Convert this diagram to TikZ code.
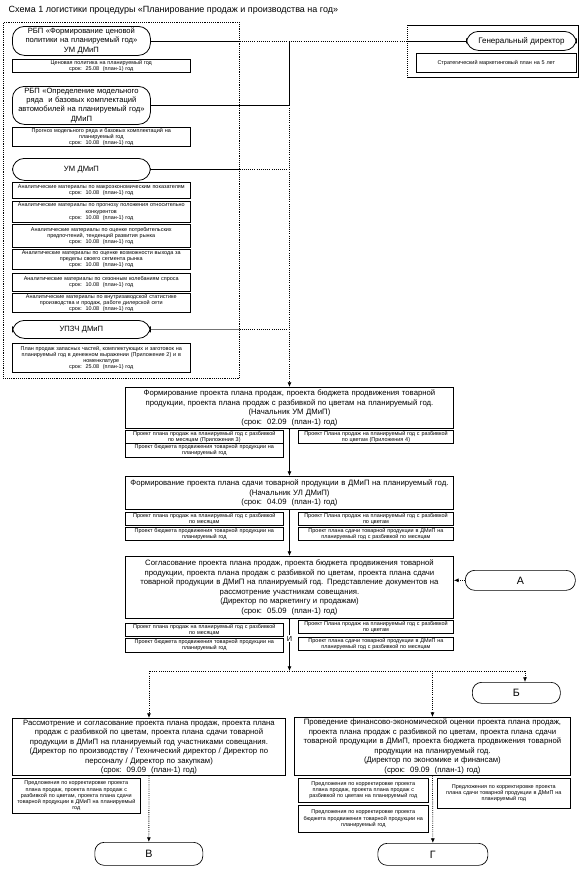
\documentclass[tikz,border=0pt]{standalone}
\usepackage{fontspec}
\setmainfont{Liberation Sans}
\usetikzlibrary{arrows.meta}

\begin{document}
\begin{tikzpicture}[
  x=0.75pt, y=-0.75pt,
  frame/.style={
    rectangle,
    anchor=north west,
    inner sep=0pt
  },
  group/.style={
    rectangle,
    draw=black,
    line width=0.6pt,
    rounded corners=9pt,
    align=center,
    inner xsep=1pt, inner ysep=0pt,
    anchor=north west,
    font=\fontsize{5.7}{6.9}\selectfont
  },
  doc/.style={
    rectangle,
    draw=black,
    line width=0.45pt,
    align=center,
    inner xsep=1pt, inner ysep=0.5pt,
    anchor=north west,
    font=\fontsize{4.1}{4.6}\selectfont
  },
  task/.style={
    rectangle,
    draw=black,
    line width=0.7pt,
    align=center,
    inner xsep=1pt, inner ysep=0pt,
    anchor=north west,
    font=\fontsize{5.8}{7.1}\selectfont
  },
  term/.style={
    rectangle,
    draw=black,
    line width=0.5pt,
    rounded corners=7pt,
    align=center,
    inner xsep=1pt, inner ysep=0pt,
    anchor=north west,
    font=\fontsize{8}{9}\selectfont
  },
  sz/.style 2 args={text width=#1, minimum height=#2},
  arrow/.style={-{Latex[length=3.5pt,width=3pt]}, draw=black},
  dotline/.style={densely dotted, draw=black, line width=0.6pt},
  solidline/.style={draw=black, line width=0.6pt}
]
\useasboundingbox (0,0) rectangle (582,871);

\node[anchor=west, font=\fontsize{6.75}{8}\selectfont] (title) at (4,10)
  {Схема 1 логистики процедуры «Планирование продаж и производства на год»};

% left block of sources
\node[frame, draw=black, densely dotted, minimum width=177pt, minimum height=267pt] (lframe) at (3,22) {};

\node[group, sz={101.5pt}{21.75pt}] (grp1) at (12,26)
  {РБП «Формирование ценовой\\политики на планируемый год»\\УМ ДМиП};
\node[doc, sz={131.5pt}{9.75pt}] (doc1) at (12,59)
  {Ценовая политика на планируемый год\\срок:\ \ 25.08\ \ (план-1) год};

\node[group, sz={101.5pt}{28.5pt}] (grp2) at (12,86)
  {РБП «Определение модельного\\ряда\ \ и базовых комплектаций\\автомобилей на планируемый год»\\ДМиП};
\node[doc, sz={131.5pt}{14.25pt}] (doc2) at (12,127)
  {Прогноз модельного ряда и базовых комплектаций на\\планируемый год\\срок:\ \ 10.08\ \ (план-1) год};

\node[group, sz={101.5pt}{16.5pt}] (grp3) at (12,158) {УМ ДМиП};
\node[doc, sz={131.5pt}{12pt}] (doc3) at (12,182)
  {Аналитические материалы по макроэкономическим показателям\\срок:\ \ 10.08\ \ (план-1) год};
\node[doc, sz={131.5pt}{15.75pt}] (doc4) at (12,201)
  {Аналитические материалы по прогнозу положения относительно\\конкурентов\\срок:\ \ 10.08\ \ (план-1) год};
\node[doc, sz={131.5pt}{17.25pt}] (doc5) at (12,224)
  {Аналитические материалы по оценке потребительских\\предпочтений, тенденций развития рынка\\срок:\ \ 10.08\ \ (план-1) год};
\node[doc, sz={131.5pt}{15pt}] (doc6) at (12,249)
  {Аналитические материалы по оценке возможности выхода за\\пределы своего сегмента рынка\\срок:\ \ 10.08\ \ (план-1) год};
\node[doc, sz={131.5pt}{13.5pt}] (doc7) at (12,273)
  {Аналитические материалы по сезонным колебаниям спроса\\срок:\ \ 10.08\ \ (план-1) год};
\node[doc, sz={131.5pt}{14.25pt}] (doc8) at (12,293)
  {Аналитические материалы по внутризаводской статистике\\производства и продаж, работе дилерской сети\\срок:\ \ 10.08\ \ (план-1) год};

\node[group, sz={101.5pt}{13.5pt}] (grp4) at (12,320) {УПЗЧ ДМиП};
\node[doc, sz={131.5pt}{21.75pt}] (doc9) at (12,343)
  {План продаж запасных частей, комплектующих и заготовок на\\планируемый год в денежном выражении (Приложение 2) и в\\номенклатуре\\срок:\ \ 25.08\ \ (план-1) год};

% general director
\node[frame, minimum width=128.25pt, minimum height=39pt] (rframe) at (407,25) {};
\draw[line width=0.5pt] (rframe.north west) -- (rframe.north east) -- (rframe.south east) -- (rframe.south west);
\draw[densely dotted, line width=0.5pt] (rframe.south west) -- (rframe.north west);
\node[group, sz={80.5pt}{14.25pt}, font=\fontsize{6}{7}\selectfont] (gd) at (466,31) {Генеральный директор};
\node[doc, sz={118pt}{14.25pt}] (strat) at (416,53) {Стратегический маркетинговый план на 5 лет};

% main flow
\node[task, sz={244pt}{30.75pt}] (task1) at (125,387)
  {Формирование проекта плана продаж, проекта бюджета продвижения товарной\\продукции, проекта плана продаж с разбивкой по цветам на планируемый год.\\(Начальник УМ ДМиП)\\(срок:\ \ 02.09\ \ (план-1) год)};
\node[doc, sz={116.5pt}{8.25pt}] (d11) at (125,430)
  {Проект плана продаж на планируемый год с разбивкой\\по месяцам (Приложения 3)};
\node[doc, sz={114.5pt}{9pt}] (d12) at (298,430)
  {Проект Плана продаж на планируемый год с разбивкой\\по цветам (Приложения 4)};
\node[doc, sz={116.5pt}{10.5pt}] (d13) at (125,443)
  {Проект бюджета продвижения товарной продукции на\\планируемый год};

\node[task, sz={244pt}{24.75pt}] (task2) at (125,476)
  {Формирование проекта плана сдачи товарной продукции в ДМиП на планируемый год.\\(Начальник УЛ ДМиП)\\(срок:\ \ 04.09\ \ (план-1) год)};
\node[doc, sz={116.5pt}{8.25pt}] (d21) at (125,512)
  {Проект плана продаж на планируемый год с разбивкой\\по месяцам};
\node[doc, sz={114.5pt}{9pt}] (d22) at (298,512)
  {Проект Плана продаж на планируемый год с разбивкой\\по цветам};
\node[doc, sz={116.5pt}{9.75pt}] (d23) at (125,527)
  {Проект бюджета продвижения товарной продукции на\\планируемый год};
\node[doc, sz={114.5pt}{9.75pt}] (d24) at (298,527)
  {Проект плана сдачи товарной продукции в ДМиП на\\планируемый год с разбивкой по месяцам};

\node[task, sz={244pt}{46.5pt}] (task3) at (125,556)
  {Согласование проекта плана продаж, проекта бюджета продвижения товарной\\продукции, проекта плана продаж с разбивкой по цветам, проекта плана сдачи\\товарной продукции в ДМиП на планируемый год. Представление документов на\\рассмотрение участникам совещания.\\(Директор по маркетингу и продажам)\\(срок:\ \ 05.09\ \ (план-1) год)};
\node[term, sz={80.5pt}{15pt}] (termA) at (465,570) {А};
\node[doc, sz={116.5pt}{9pt}] (d31) at (125,623)
  {Проект плана продаж на планируемый год с разбивкой\\по месяцам};
\node[doc, sz={114.5pt}{9.75pt}] (d32) at (298,620)
  {Проект Плана продаж на планируемый год с разбивкой\\по цветам};
\node[doc, sz={116.5pt}{10.5pt}] (d33) at (125,638)
  {Проект бюджета продвижения товарной продукции на\\планируемый год};
\node[doc, sz={114.5pt}{9.75pt}] (d34) at (298,637)
  {Проект плана сдачи товарной продукции в ДМиП на\\планируемый год с разбивкой по месяцам};

\coordinate (splitrow) at (0,671);
\coordinate (bdrop) at (525,671);
\node[term, sz={64pt}{15.75pt}] (termB) at (472,682) {Б};

\node[task, sz={202.75pt}{42.75pt}] (review) at (12,718)
  {Рассмотрение и согласование проекта плана продаж, проекта плана\\продаж с разбивкой по цветам, проекта плана сдачи товарной\\продукции в ДМиП на планируемый год участниками совещания.\\(Директор по производству / Технический директор / Директор по\\персоналу / Директор по закупкам)\\(срок:\ \ 09.09\ \ (план-1) год)};
\node[doc, sz={94pt}{26.25pt}] (revnote) at (12,778)
  {Предложения по корректировке проекта\\плана продаж, проекта плана продаж с\\разбивкой по цветам, проекта плана сдачи\\товарной продукции в ДМиП на планируемый\\год};
\node[term, sz={79pt}{17.25pt}] (termV) at (94.5,842) {В};

\node[task, sz={205pt}{43.5pt}] (finance) at (294,717)
  {Проведение финансово-экономической оценки проекта плана продаж,\\проекта плана продаж с разбивкой по цветам, проекта плана сдачи\\товарной продукции в ДМиП, проекта бюджета продвижения товарной\\продукции на планируемый год.\\(Директор по экономике и финансам)\\(срок:\ \ 09.09\ \ (план-1) год)};
\node[doc, sz={95.5pt}{18pt}] (finnote1) at (298,778)
  {Предложения по корректировке проекта\\плана продаж, проекта плана продаж с\\разбивкой по цветам на планируемый год};
\node[doc, sz={95.5pt}{20.25pt}] (finnote2) at (298,805)
  {Предложения по корректировке проекта\\бюджета продвижения товарной продукции на\\планируемый год};
\node[doc, sz={97.75pt}{22.5pt}] (finnote3) at (437,778)
  {Предложения по корректировке проекта\\плана сдачи товарной продукции в ДМиП на\\планируемый год};
\node[term, sz={80.5pt}{16.5pt}] (termG) at (377.5,843) {Г};

% links from the sources
\draw[solidline] (grp1.east) -- (grp1.east -| lframe.east);
\draw[dotline] (grp1.east -| lframe.east) -- (grp1.east -| rframe.west);
\draw[solidline] (grp1.east -| rframe.west) -- (gd.west);
\draw[solidline] (grp2.east) -- (grp2.east -| task1.north);
\draw[solidline] (grp1.east -| task1.north) -- (grp2.east -| task1.north);
\draw[solidline] (grp3.east) -- (grp3.east -| lframe.east);
\draw[dotline] (grp3.east -| lframe.east) -- (grp3.east -| task1.north);
\draw[solidline, draw=black!55] (grp4.east) -- (grp4.east -| lframe.east);
\draw[dotline] (grp4.east -| lframe.east) -- (grp4.east -| task1.north);
\draw[dotline, arrow] (grp2.east -| task1.north) -- (task1.north);

% main flow links
\draw[solidline, arrow] (task1.south) -- (task2.north);
\draw[solidline, arrow] (task2.south) -- (task3.north);
\draw[dotline, arrow] (termA.west) -- (termA.west -| task3.east);
\draw[solidline] (task3.south) -- node[pos=0.62, fill=white, inner sep=0.5pt, font=\fontsize{5.5}{6}\selectfont] (andlabel) {И} (task3.south |- d34.south);
\draw[solidline, arrow] (task3.south |- d34.south) -- (task3.south |- splitrow);
\draw[dotline, arrow] (task3.south |- splitrow) -| (review.north);
\draw[dotline] (task3.south |- splitrow) -- (bdrop);
\draw[dotline, arrow] (bdrop) -- (bdrop |- termB.north);
\draw[dotline, arrow] (finance.north |- splitrow) -- (finance.north);
\draw[dotline, arrow] (review.south) -- (termV.north);
\draw[dotline, arrow] (finance.south) -- (termG.north);

\end{tikzpicture}
\end{document}
